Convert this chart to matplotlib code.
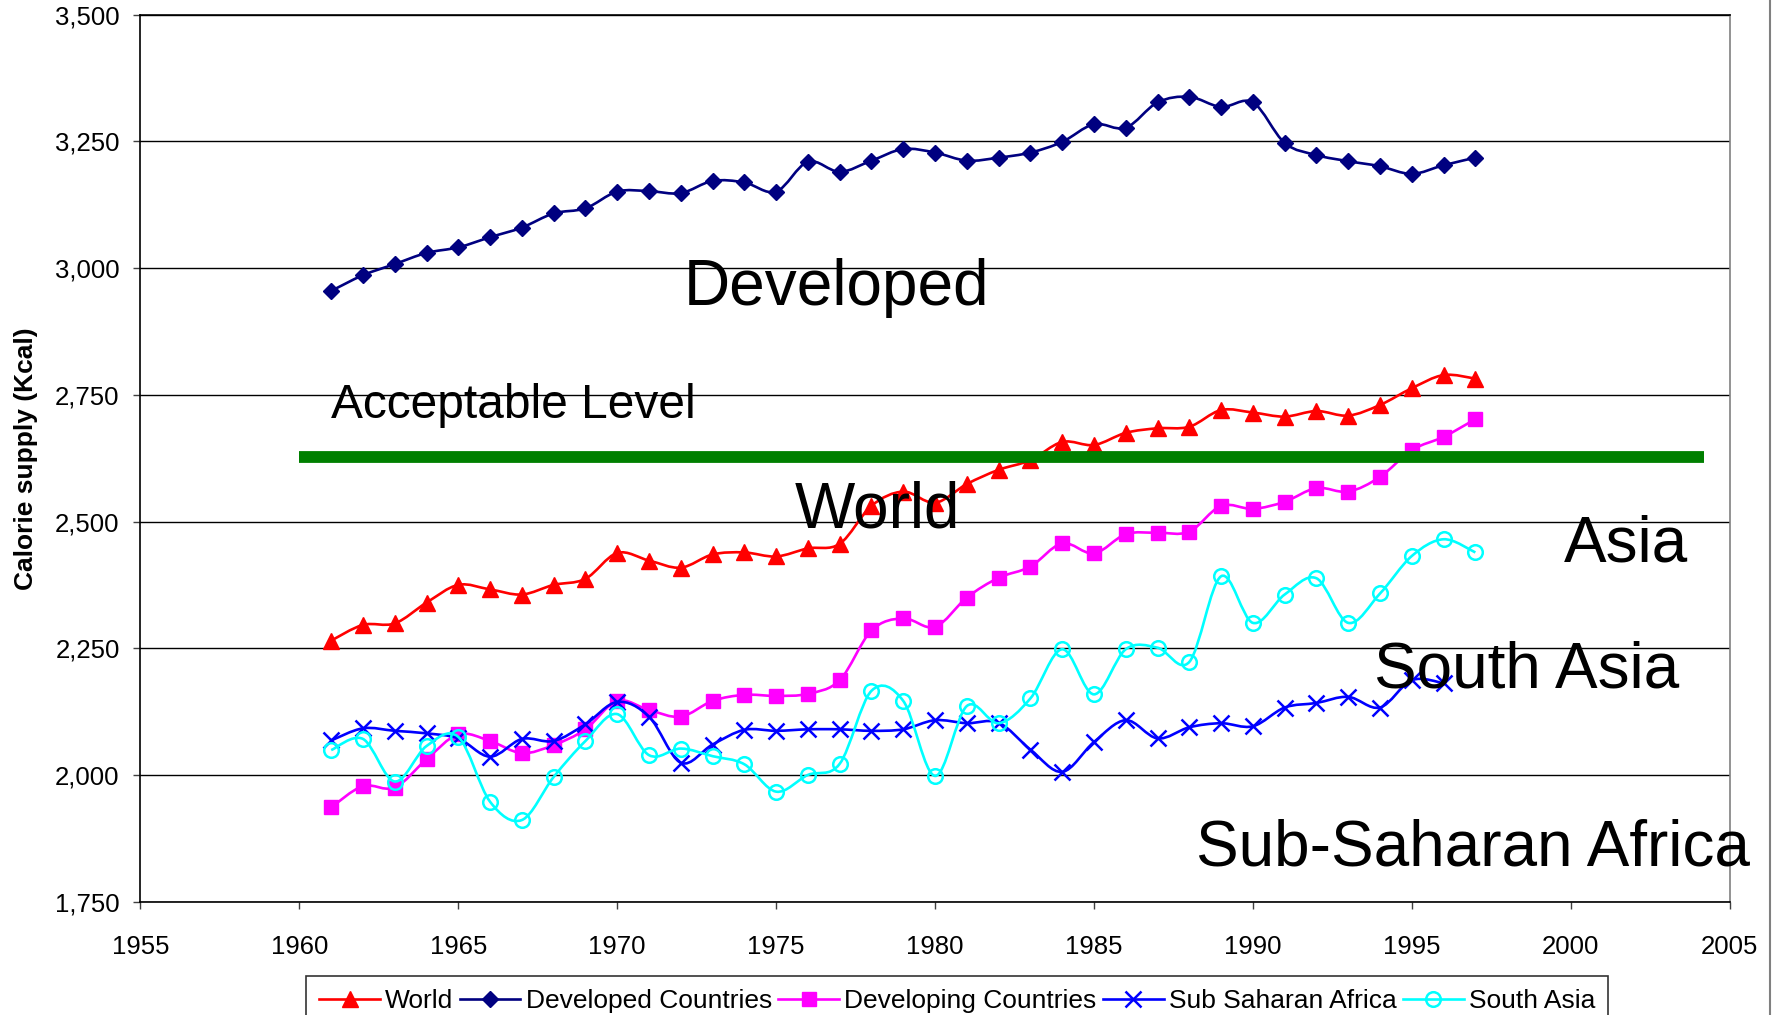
import numpy as np
import matplotlib
matplotlib.use("Agg")
import matplotlib.pyplot as plt
from matplotlib.path import Path
from matplotlib.patches import PathPatch
from matplotlib.lines import Line2D
from matplotlib.ticker import FuncFormatter

plt.rcParams['font.family'] = ['Liberation Sans', 'DejaVu Sans']

# daily calorie supply per capita (kcal)
years = list(range(1961, 1998))

world = [2265, 2296, 2299, 2340, 2375, 2366, 2356, 2375, 2387, 2438,
         2423, 2409, 2435, 2439, 2431, 2447, 2456, 2531, 2559, 2537,
         2574, 2602, 2621, 2657, 2651, 2675, 2684, 2687, 2720, 2715,
         2707, 2718, 2709, 2730, 2763, 2789, 2782]

developed = [2955, 2986, 3008, 3030, 3041, 3061, 3080, 3108, 3118, 3151,
             3152, 3148, 3172, 3169, 3151, 3210, 3190, 3212, 3235, 3228,
             3212, 3218, 3228, 3249, 3284, 3277, 3327, 3338, 3318, 3327,
             3247, 3223, 3211, 3201, 3186, 3203, 3218]

developing = [1936, 1978, 1975, 2031, 2080, 2067, 2043, 2059, 2090, 2146,
              2128, 2115, 2146, 2158, 2156, 2160, 2187, 2285, 2309, 2292,
              2350, 2389, 2411, 2457, 2437, 2475, 2478, 2480, 2531, 2525,
              2539, 2566, 2559, 2588, 2641, 2667, 2702]

# no 1997 figure for Sub Saharan Africa
ssa_years = list(range(1961, 1997))
ssa = [2068, 2092, 2087, 2082, 2072, 2036, 2071, 2067, 2100, 2144,
       2115, 2024, 2060, 2089, 2087, 2090, 2090, 2087, 2090, 2108,
       2102, 2103, 2050, 2006, 2065, 2108, 2072, 2094, 2102, 2096,
       2133, 2142, 2154, 2133, 2187, 2181]

south_asia = [2049, 2071, 1987, 2057, 2075, 1947, 1911, 1996, 2067, 2120,
              2039, 2052, 2037, 2021, 1967, 2000, 2022, 2166, 2146, 1998,
              2136, 2102, 2151, 2248, 2159, 2248, 2251, 2223, 2392, 2300,
              2356, 2388, 2300, 2358, 2432, 2465, 2439]

acceptable_level = 2627
acceptable_span = (1960, 2004.2)

y_ticks = [1750, 2000, 2250, 2500, 2750, 3000, 3250, 3500]
x_ticks = [1955, 1960, 1965, 1970, 1975, 1980, 1985, 1990, 1995, 2000, 2005]


def smooth_path(x, y):
    # Catmull-Rom curve through the points, as cubic Bezier segments
    pts = np.column_stack([x, y]).astype(float)
    n = len(pts)
    verts = [pts[0]]
    codes = [Path.MOVETO]
    for i in range(n - 1):
        p0 = pts[i - 1] if i > 0 else pts[i]
        p1 = pts[i]
        p2 = pts[i + 1]
        p3 = pts[i + 2] if i + 2 < n else pts[i + 1]
        c1 = p1 + (p2 - p0) / 6.0
        c2 = p2 - (p3 - p1) / 6.0
        verts += [c1, c2, p2]
        codes += [Path.CURVE4] * 3
    return Path(verts, codes)


fig = plt.figure(figsize=(17.76, 10.15), dpi=100)
ax = fig.add_axes([0.0791, 0.1117, 0.8948, 0.8738])

series = [
    ("World", years, world, "#FF0000", dict(marker="^", ms=11, mfc="#FF0000", mec="#FF0000")),
    ("Developed Countries", years, developed, "#000080", dict(marker="D", ms=8.5, mfc="#000080", mec="#000080")),
    ("Developing Countries", years, developing, "#FF00FF", dict(marker="s", ms=10.5, mfc="#FF00FF", mec="#FF00FF")),
    ("Sub Saharan Africa", ssa_years, ssa, "#0000FF", dict(marker="x", ms=12, mec="#0000FF", mew=1.8)),
    ("South Asia", years, south_asia, "#00FFFF", dict(marker="o", ms=10.5, mfc="none", mec="#00FFFF", mew=1.8)),
]

handles = []
for k, (name, xs, ys, col, mk) in enumerate(series):
    patch = PathPatch(smooth_path(xs, ys), facecolor="none", edgecolor=col,
                      lw=1.9, zorder=3 + k)
    ax.add_patch(patch)
    ax.plot(xs, ys, linestyle="none", zorder=3 + k, **mk)
    handles.append(Line2D([], [], color=col, lw=1.9, label=name, **mk))

# acceptable intake bar
ax.plot(acceptable_span, [acceptable_level, acceptable_level],
        color="#007F00", lw=8.5, solid_capstyle="butt", zorder=10)

ax.set_xlim(1955, 2005)
ax.set_ylim(1750, 3500)
ax.set_xticks(x_ticks)
ax.set_yticks(y_ticks)
ax.yaxis.set_major_formatter(FuncFormatter(lambda v, p: f"{int(v):,}"))
ax.tick_params(axis="both", labelsize=18.5, direction="out", length=5,
               width=1, color="#404040")
ax.tick_params(axis="x", pad=19)
ax.tick_params(axis="y", pad=10)

ax.grid(axis="y", color="black", lw=1)
ax.set_axisbelow(True)
for side in ["left", "bottom", "top"]:
    ax.spines[side].set_color("black")
    ax.spines[side].set_linewidth(1.2)
ax.spines["right"].set_color("#808080")
ax.spines["right"].set_linewidth(1.2)

fig.text(0.0148, 0.548, "Calorie supply (Kcal)", rotation=90, fontsize=19,
         fontweight="bold", ha="center", va="center")

# region labels
big = 46
ax.text(1972.1, 2960, "Developed", fontsize=big, va="center", zorder=20)
ax.text(1961.0, 2728, "Acceptable Level", fontsize=34.5, va="center", zorder=20)
ax.text(1975.6, 2521, "World", fontsize=big, va="center", zorder=20)
ax.text(1999.8, 2455, "Asia", fontsize=big, va="center", zorder=20)
ax.text(1993.8, 2206, "South Asia", fontsize=big, va="center", zorder=20)
ax.text(1988.2, 1855, "Sub-Saharan Africa", fontsize=big, va="center", zorder=20)

leg = fig.legend(handles=handles, loc="upper center",
                 bbox_to_anchor=(0.539, 1 - 976 / 1015), ncol=5, fontsize=19,
                 frameon=True, fancybox=False, edgecolor="black",
                 handlelength=2.3, handletextpad=0.2, columnspacing=0.24,
                 borderpad=0.5, borderaxespad=0)
leg.get_frame().set_linewidth(1.2)

# outer chart border on the right
fig.add_artist(Line2D([0.9966, 0.9966], [0, 1], transform=fig.transFigure,
                      color="#808080", lw=1.5))

fig.savefig("out.png", dpi=100, facecolor="white")
